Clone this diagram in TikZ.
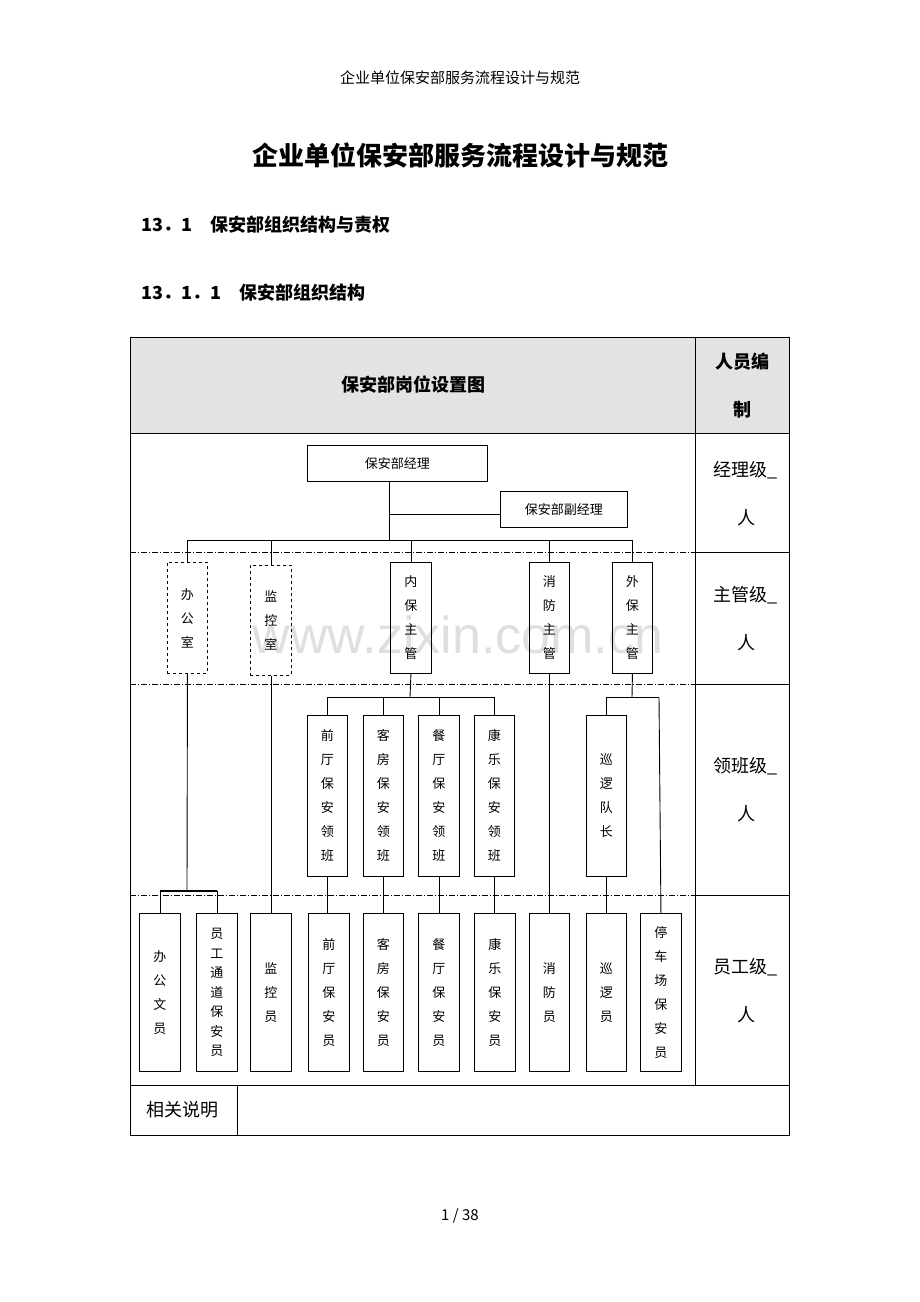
\documentclass[tikz,border=0pt]{standalone}
\usepackage{fontspec}
\setmainfont{Noto Sans CJK SC}
\newfontfamily\wmfont{Liberation Sans}
\newcommand\orgbox[6]{%
  \node[#2,minimum width=#5pt-#3pt,minimum height=#6pt-#4pt] (#1) at (#3,#4) {};}
\begin{document}
\begin{tikzpicture}[x=1pt,y=-1pt,
  bx/.style={draw,line width=0.9pt,inner sep=0pt,anchor=north west},
  dbx/.style={bx,dashed},
  vt/.style={font=\fontsize{13}{24}\selectfont,align=center},
  lab/.style={font=\fontsize{18}{20}\selectfont},
  ln/.style={line width=0.9pt},
  sep/.style={line width=0.6pt,dash pattern=on 6pt off 2pt on 1pt off 2pt}]
\useasboundingbox (0,0) rectangle (920,1302);
\node[font=\fontsize{15}{17}\selectfont] (hdr) at (460,78) {企业单位保安部服务流程设计与规范};
\node[font=\fontsize{26}{28}\selectfont\bfseries] (ttl) at (460,155) {企业单位保安部服务流程设计与规范};
\node[font=\fontsize{18}{20}\selectfont\bfseries,anchor=west] (s1) at (138,225) {13．1\quad 保安部组织结构与责权};
\node[font=\fontsize{18}{20}\selectfont\bfseries,anchor=west] (s2) at (138,293) {13．1．1\quad 保安部组织结构};
\node[font=\fontsize{15}{17}\selectfont] (ftr) at (460,1216) {1 / 38};
% table
\fill[gray!22] (130,337) rectangle (789,433);
\draw[line width=0.8pt] (130,337) rectangle (789,1135);
\draw[line width=0.8pt] (695,337) -- (695,1085);
\draw[line width=0.8pt] (130,433) -- (789,433);
\draw[line width=0.8pt] (130,1085) -- (789,1085);
\draw[line width=0.8pt] (237,1085) -- (237,1135);
\foreach \yy in {552,684,895}{
  \draw[sep] (130,\yy) -- (695,\yy);
  \draw[line width=0.8pt] (695,\yy) -- (789,\yy);}
\node[font=\fontsize{18}{20}\selectfont\bfseries] (th) at (413,385) {保安部岗位设置图};
\node[font=\fontsize{18}{48}\selectfont\bfseries,align=center] (th2) at (742,386) {人员编\\制};
\node[align=center,font=\fontsize{18}{48}\selectfont] (r1) at (746,494) {经理级\_\\人};
\node[align=center,font=\fontsize{18}{48}\selectfont] (r2) at (746,619) {主管级\_\\人};
\node[align=center,font=\fontsize{18}{48}\selectfont] (r3) at (746,790) {领班级\_\\人};
\node[align=center,font=\fontsize{18}{48}\selectfont] (r4) at (746,991) {员工级\_\\人};
\node[lab,anchor=west] (xg) at (143,1110) {相关说明};
% watermark
\node[text=gray!25,font=\wmfont\fontsize{52}{52}\selectfont] (wm) at (458,635) {www.zixin.com.cn};
% level 1
\node[bx,minimum width=180pt,minimum height=36pt] (m) at (307,445) {};
\node[font=\fontsize{13}{15}\selectfont] at (m.center) {保安部经理};
\node[bx,minimum width=127pt,minimum height=36pt] (v) at (500,491) {};
\node[font=\fontsize{13}{15}\selectfont] at (v.center) {保安部副经理};
\coordinate (mb) at (389,481);
\coordinate (bus) at (389,540);
\coordinate (vj) at (389,514);
\draw[ln] (mb) -- (bus);
\draw[ln] (vj) -- (v.west |- vj);
\draw[ln] (187,540) -- (632,540);
% level 2
\orgbox{bg}{dbx}{167}{562}{207}{673}
\orgbox{jk}{dbx}{250}{565}{291}{675}
\orgbox{nb}{bx}{390}{562}{431}{673}
\orgbox{xf}{bx}{529}{562}{569}{673}
\orgbox{wb}{bx}{612}{562}{652}{673}
\node[vt] at (bg.center) {办\\公\\室};
\node[vt] at (jk.center) {监\\控\\室};
\node[vt] at (nb.center) {内\\保\\主\\管};
\node[vt] at (xf.center) {消\\防\\主\\管};
\node[vt] at (wb.center) {外\\保\\主\\管};
\foreach \n in {bg,jk,nb,xf,wb}{\draw[ln] (\n.north) -- (\n.north |- bus);}
% level 3
\orgbox{l1}{bx}{307}{715}{347}{876}
\orgbox{l2}{bx}{363}{715}{403}{876}
\orgbox{l3}{bx}{418}{715}{459}{876}
\orgbox{l4}{bx}{474}{715}{514}{876}
\orgbox{xl}{bx}{586}{715}{626}{876}
\node[vt] at (l1.center) {前\\厅\\保\\安\\领\\班};
\node[vt] at (l2.center) {客\\房\\保\\安\\领\\班};
\node[vt] at (l3.center) {餐\\厅\\保\\安\\领\\班};
\node[vt] at (l4.center) {康\\乐\\保\\安\\领\\班};
\node[vt] at (xl.center) {巡\\逻\\队\\长};
\coordinate (nbus) at (410,697);
\draw[ln] (nb.south) -- (nbus);
\draw[ln] (l1.north |- nbus) -- (l4.north |- nbus);
\foreach \n in {l1,l2,l3,l4}{\draw[ln] (\n.north) -- (\n.north |- nbus);}
\coordinate (wbus) at (632,697);
\coordinate (pk) at (659,697);
\draw[ln] (wb.south) -- (wbus);
\draw[ln] (xl.north |- wbus) -- (pk);
\draw[ln] (xl.north) -- (xl.north |- wbus);
% level 4
\orgbox{e1}{bx}{139}{913}{180}{1071}
\orgbox{e2}{bx}{196}{913}{237}{1071}
\orgbox{e3}{bx}{250}{913}{291}{1071}
\orgbox{e4}{bx}{308}{913}{349}{1071}
\orgbox{e5}{bx}{363}{913}{403}{1071}
\orgbox{e6}{bx}{418}{913}{459}{1071}
\orgbox{e7}{bx}{474}{913}{515}{1071}
\orgbox{e8}{bx}{529}{913}{569}{1071}
\orgbox{e9}{bx}{586}{913}{626}{1071}
\orgbox{e10}{bx}{640}{913}{681}{1071}
\node[vt] at (e1.center) {办\\公\\文\\员};
\node[vt,font=\fontsize{13}{19.5}\selectfont] at (e2.center) {员\\工\\通\\道\\保\\安\\员};
\node[vt] at (e3.center) {监\\控\\员};
\node[vt] at (e4.center) {前\\厅\\保\\安\\员};
\node[vt] at (e5.center) {客\\房\\保\\安\\员};
\node[vt] at (e6.center) {餐\\厅\\保\\安\\员};
\node[vt] at (e7.center) {康\\乐\\保\\安\\员};
\node[vt] at (e8.center) {消\\防\\员};
\node[vt] at (e9.center) {巡\\逻\\员};
\node[vt] at (e10.center) {停\\车\\场\\保\\安\\员};
\coordinate (obus) at (187,891);
\draw[ln] (bg.south) -- (obus);
\draw[line width=1.4pt] (e1.north |- obus) -- (e2.north |- obus);
\draw[ln] (e1.north) -- (e1.north |- obus);
\draw[ln] (e2.north) -- (e2.north |- obus);
\draw[ln] (jk.south) -- (e3.north);
\draw[ln] (l1.south) -- (l1.south |- e4.north);
\draw[ln] (l2.south) -- (e5.north);
\draw[ln] (l3.south) -- (e6.north);
\draw[ln] (l4.south) -- (l4.south |- e7.north);
\draw[ln] (xf.south) -- (e8.north);
\draw[ln] (xl.south) -- (e9.north);
\draw[ln] (pk) -- (e10.north);
\end{tikzpicture}
\end{document}
